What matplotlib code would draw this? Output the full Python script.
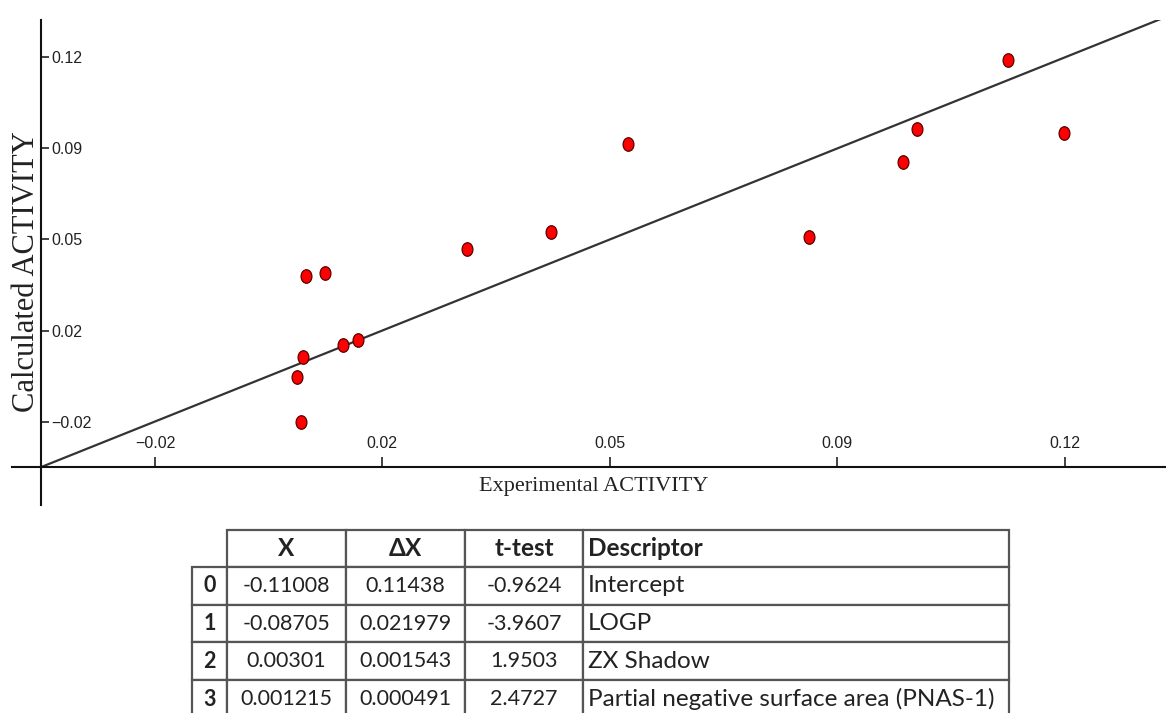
import matplotlib
matplotlib.use("Agg")
import matplotlib.pyplot as plt
from matplotlib import font_manager
from matplotlib.markers import MarkerStyle
from matplotlib.transforms import Affine2D
from matplotlib.table import Table

# observed vs predicted activity
exp_activity = [0.0057, 0.0087, 0.0114, 0.0138, 0.0053, 0.0043, 0.0049,
                0.0305, 0.0434, 0.0553, 0.0832, 0.0976, 0.0998, 0.1138, 0.1224]
calc_activity = [0.0384, 0.0397, 0.0121, 0.0138, 0.0074, -0.0005, -0.0176,
                 0.0489, 0.0555, 0.0894, 0.0533, 0.0822, 0.0948, 0.1214, 0.0935]

tick_values = [-0.0175, 0.0175, 0.0525, 0.0875, 0.1225]
x_tick_labels = ["\u22120.02", "0.02", "0.05", "0.09", "0.12"]
y_tick_labels = ["\u22120.02", "0.02", "0.05", "0.09", "0.12"]
axis_origin = -0.035

# regression table
col_labels = ["X", "\u0394X", "t-test", "Descriptor"]
row_labels = ["0", "1", "2", "3"]
coef_x = ["-0.11008", "-0.08705", "0.00301", "0.001215"]
coef_dx = ["0.11438", "0.021979", "0.001543", "0.000491"]
t_test = ["-0.9624", "-3.9607", "1.9503", "2.4727"]
descriptors = ["Intercept", "LOGP", "ZX Shadow",
               "Partial negative surface area (PNAS-1)"]

W, H = 1166, 713
installed = {f.name for f in font_manager.fontManager.ttflist}
tick_font = "Liberation Sans Narrow" if "Liberation Sans Narrow" in installed else "Liberation Sans"

fig = plt.figure(figsize=(W / 100, H / 100), dpi=100)
fig.patch.set_facecolor("white")

# main scatter axes, in pixel layout of the reference
ax = fig.add_axes([12 / W, (H - 505) / H, (W - 12) / W, (505 - 20) / H])
ax.set_xlim(-0.0395, 0.1381)
ax.set_ylim(-0.0496, 0.1369)
for side in ["top", "right"]:
    ax.spines[side].set_visible(False)
for side in ["left", "bottom"]:
    ax.spines[side].set_position(("data", axis_origin))
    ax.spines[side].set_linewidth(1.5)
    ax.spines[side].set_color("#111111")

# identity line starting at the axis origin
x_end = ax.get_xlim()[1]
ax.plot([axis_origin, x_end], [axis_origin, x_end], color="#333333", lw=1.6,
        zorder=2)

marker = MarkerStyle("o", transform=Affine2D().scale(0.8, 1.0))
ax.scatter(exp_activity, calc_activity, s=95, marker=marker,
           facecolor="#ff0000", edgecolor="#5a0000", linewidth=0.9, zorder=3)

ax.set_xticks(tick_values)
ax.set_xticklabels(x_tick_labels)
ax.set_yticks(tick_values)
ax.set_yticklabels(y_tick_labels)
ax.tick_params(axis="x", direction="in", length=7, width=1.2, pad=-22,
               labelsize=11.5, colors="#222222")
ax.tick_params(axis="y", direction="in", length=6, width=1.2, pad=-7,
               labelsize=11.5, colors="#222222")
for lbl in ax.get_xticklabels() + ax.get_yticklabels():
    lbl.set_family(tick_font)
for lbl in ax.get_yticklabels():
    lbl.set_ha("left")

fig.text(594 / W, 1 - 487 / H, "Experimental ACTIVITY", ha="center", va="center",
         family="Liberation Serif", fontsize=16, color="#222222")
fig.text(27 / W, 1 - 272 / H, "Calculated ACTIVITY", ha="center", va="center",
         rotation=90, family="Liberation Serif", fontsize=22, color="#222222")

# table below the plot (data columns fill the axes, row labels sit to the left)
ax_t = fig.add_axes([227 / W, (H - 718) / H, (1009 - 227) / W, (718 - 530) / H])
ax_t.set_axis_off()
tbl = Table(ax_t, bbox=[0, 0, 1, 1])
col_px = [119, 119, 118, 426]
total_w = sum(col_px)
col_w = [w / total_w for w in col_px]
idx_w = 35 / total_w
head_h, row_h = 37 / 188, 38 / 188
columns = [coef_x, coef_dx, t_test, descriptors]

for j, name in enumerate(col_labels):
    c = tbl.add_cell(0, j, width=col_w[j], height=head_h, text=name,
                     loc="left" if j == 3 else "center")
    c.get_text().set_fontweight("bold")
    c.get_text().set_fontsize(17.5)
    if j == 3:
        c.PAD = 0.012
for i, lab in enumerate(row_labels):
    c = tbl.add_cell(i + 1, -1, width=idx_w, height=row_h, text=lab, loc="center")
    c.get_text().set_fontweight("bold")
    c.get_text().set_fontsize(15.5)
    for j, col in enumerate(columns):
        c = tbl.add_cell(i + 1, j, width=col_w[j], height=row_h, text=col[i],
                         loc="left" if j == 3 else "center")
        c.get_text().set_fontsize(17.5 if j == 3 else 15.5)
        if j == 3:
            c.PAD = 0.012

tbl.auto_set_font_size(False)
for cell in tbl.get_celld().values():
    cell.set_edgecolor("#555555")
    cell.set_linewidth(1.6)
    cell.get_text().set_family("Lato")
    cell.get_text().set_color("#222222")
tbl.set_clip_on(False)
ax_t.add_table(tbl)

fig.savefig("out.png", dpi=100, facecolor="white")
